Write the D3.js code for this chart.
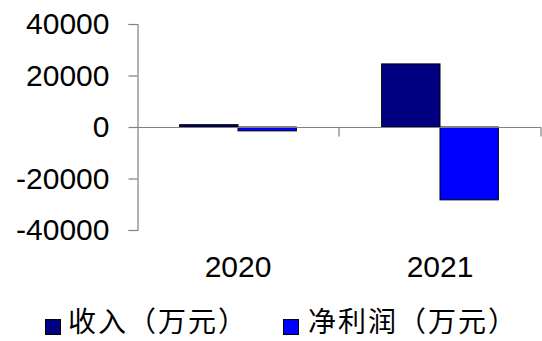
<!DOCTYPE html>
<html>
<head>
<meta charset="utf-8">
<script src="https://cdn.jsdelivr.net/npm/d3@7"></script>
<style>
  body { margin: 0; background: #fff; }
  svg { display: block; }
</style>
</head>
<body>
<svg id="chart"></svg>
<script>
// Data
const years = ["2020", "2021"];
const seriesNames = ["收入（万元）", "净利润（万元）"];
const revenue = [900, 24500];
const netProfit = [-1500, -28300];
const yTicks = [-40000, -20000, 0, 20000, 40000];

const colors = ["#000080", "#0000ff"];

const width = 542;
const height = 341;

const svg = d3.select("#chart")
    .attr("width", width)
    .attr("height", height);

const rows = years.map((yr, i) => ({ year: yr, values: [revenue[i], netProfit[i]] }));

const x = d3.scaleBand()
    .domain(years)
    .range([137, 541])
    .padding(0);

const xSub = d3.scaleBand()
    .domain([0, 1])
    .range([0, x.bandwidth()])
    .paddingInner(0)
    .paddingOuter(0.73);

const y = d3.scaleLinear()
    .domain([-40000, 40000])
    .range([230, 24]);

// Bars
svg.append("g")
    .selectAll("g")
    .data(rows)
    .join("g")
    .attr("transform", d => `translate(${x(d.year)},0)`)
    .selectAll("rect")
    .data(d => d.values.map((v, i) => ({ v, i })))
    .join("rect")
    .attr("x", d => xSub(d.i))
    .attr("width", xSub.bandwidth())
    .attr("y", d => y(Math.max(0, d.v)))
    .attr("height", d => Math.abs(y(d.v) - y(0)))
    .attr("fill", d => colors[d.i])
    .attr("stroke", "#000")
    .attr("stroke-width", 1);

// Y axis
const yAxis = svg.append("g")
    .attr("transform", "translate(137.5,0)")
    .call(d3.axisLeft(y)
        .tickValues(yTicks)
        .tickSize(9)
        .tickPadding(19)
        .tickFormat(d => String(d)));

yAxis.selectAll("path, line").attr("stroke", "#808080").attr("stroke-width", 1.2);
yAxis.selectAll("text")
    .attr("fill", "#000")
    .style("font-family", "'Liberation Sans', Arial, sans-serif")
    .style("font-size", "30px");

// Category axis on zero line
const xAxis = svg.append("g")
    .attr("transform", `translate(0,${Math.round(y(0)) + 0.5})`);

xAxis.append("line")
    .attr("x1", x.range()[0])
    .attr("x2", x.range()[1])
    .attr("stroke", "#808080")
    .attr("stroke-width", 1.2);

xAxis.selectAll("line.tick")
    .data(years.slice(1).map(yr => x(yr)).concat([x.range()[1]]))
    .join("line")
    .attr("class", "tick")
    .attr("x1", d => d)
    .attr("x2", d => d)
    .attr("y1", 0)
    .attr("y2", 9)
    .attr("stroke", "#808080")
    .attr("stroke-width", 1.2);

// Year labels
svg.append("g")
    .selectAll("text")
    .data(years)
    .join("text")
    .attr("x", d => x(d) + x.bandwidth() / 2)
    .attr("y", 277)
    .attr("text-anchor", "middle")
    .style("font-family", "'Liberation Sans', Arial, sans-serif")
    .style("font-size", "30px")
    .text(d => d);

// Legend
const legendX = [45, 283];
const legend = svg.append("g")
    .selectAll("g")
    .data(seriesNames)
    .join("g")
    .attr("transform", (d, i) => `translate(${legendX[i]},0)`);

legend.append("rect")
    .attr("x", 0.5)
    .attr("y", 319.5)
    .attr("width", 15)
    .attr("height", 15)
    .attr("fill", (d, i) => colors[i])
    .attr("stroke", "#000");

legend.append("text")
    .attr("x", (d, i) => i === 0 ? 23 : 25)
    .attr("y", 332)
    .style("font-family", "'Noto Sans CJK SC', sans-serif")
    .style("font-size", "28px")
    .style("letter-spacing", "2px")
    .text(d => d);
</script>
</body>
</html>
